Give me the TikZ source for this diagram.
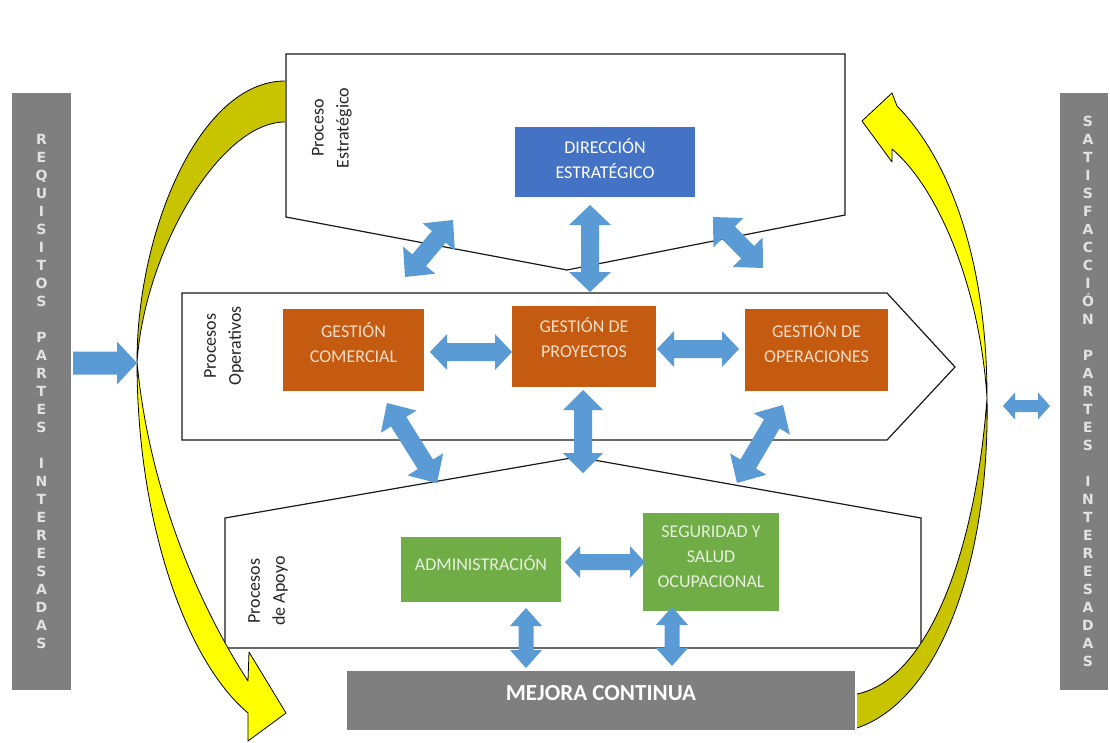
\documentclass[tikz,border=0pt]{standalone}
\usepackage{fontspec}
\setmainfont{Carlito}
\newfontfamily\barfont{DejaVu Sans}
\usetikzlibrary{calc}

\definecolor{barGray}{HTML}{7F7F7F}
\definecolor{barText}{HTML}{E2E2E2}
\definecolor{dirBlue}{HTML}{4472C4}
\definecolor{opOrange}{HTML}{C55A11}
\definecolor{opText}{HTML}{F8DEC6}
\definecolor{supGreen}{HTML}{70AD47}
\definecolor{supText}{HTML}{E6F1DC}
\definecolor{linkBlue}{HTML}{5B9BD5}
\definecolor{cycYellow}{HTML}{FFFF00}
\definecolor{cycOlive}{HTML}{C8C400}

% double-headed block arrow: from, to, shaft width, head width, head length
\newcommand{\dblarrow}[5]{%
  \fill[linkBlue] let \p1=(#1), \p2=(#2),
    \n1={atan2(\y2-\y1,\x2-\x1)}, \n2={veclen(\x2-\x1,\y2-\y1)} in
    [shift={(\p1)}, rotate=\n1]
    (0,0) -- (#5,#4/2) -- (#5,#3/2) -- (\n2-#5,#3/2) -- (\n2-#5,#4/2)
    -- (\n2,0) -- (\n2-#5,-#4/2) -- (\n2-#5,-#3/2) -- (#5,-#3/2)
    -- (#5,-#4/2) -- cycle;}
% single-headed block arrow: from, to, shaft width, head width, head length
\newcommand{\sglarrow}[5]{%
  \fill[linkBlue] let \p1=(#1), \p2=(#2),
    \n1={atan2(\y2-\y1,\x2-\x1)}, \n2={veclen(\x2-\x1,\y2-\y1)} in
    [shift={(\p1)}, rotate=\n1]
    (0,#3/2) -- (\n2-#5,#3/2) -- (\n2-#5,#4/2) -- (\n2,0)
    -- (\n2-#5,-#4/2) -- (\n2-#5,-#3/2) -- (0,-#3/2) -- cycle;}

\begin{document}
\begin{tikzpicture}[x=1pt,y=-1pt,
  every node/.style={inner sep=0pt, outer sep=0pt},
  region/.style={draw=black!90, line width=1.2pt, fill=white, line join=miter},
  sidebar/.style={rectangle, fill=barGray},
  bartext/.style={align=center, text=barText,
    font=\barfont\bfseries\fontsize{14}{18}\selectfont},
  procbox/.style={rectangle},
  boxtext/.style={align=center, font=\fontsize{18}{25}\selectfont},
  grouplabel/.style={align=center, rotate=90, text=black!85,
    font=\fontsize{18}{25}\selectfont},
  band/.style={draw=black, line width=0.8pt, line join=round}
]
\useasboundingbox (0,0) rectangle (1110,742);

% side bars
\node[sidebar, minimum width=59pt, minimum height=597pt] (lbar) at (41.5,391.5) {};
\node[bartext] (ltxt) at (lbar.center) {R\\E\\Q\\U\\I\\S\\I\\T\\O\\S\\~\\P\\A\\R\\T\\E\\S\\~\\I\\N\\T\\E\\R\\E\\S\\A\\D\\A\\S};
\node[sidebar, minimum width=48pt, minimum height=597pt] (rbar) at (1084,391.5) {};
\node[bartext] (rtxt) at ($(rbar.center)+(4,0)$) {S\\A\\T\\I\\S\\F\\A\\C\\C\\I\\Ó\\N\\~\\P\\A\\R\\T\\E\\S\\~\\I\\N\\T\\E\\R\\E\\S\\A\\D\\A\\S};

% process regions
\draw[region] (286,54) -- (845,54) -- (845,215) -- (567,270) -- (286,217) -- cycle;
\draw[region] (182,293) -- (887,293) -- (955,367) -- (887,440) -- (182,440) -- cycle;
\draw[region] (225,518) -- (577,457) -- (921,518) -- (921,648) -- (225,648) -- cycle;
\coordinate (apoyotop) at (577,457);

\node[grouplabel] (lblE) at (332,128) {Proceso\\Estratégico};
\node[grouplabel] (lblO) at (224,346) {Procesos\\Operativos};
\node[grouplabel] (lblA) at (268,591) {Procesos\\de Apoyo};

% process boxes
\node[procbox, fill=dirBlue, minimum width=180pt, minimum height=70pt] (dir) at (605,162) {};
\node[boxtext, text=white] at ($(dir.center)+(0,-3)$) {DIRECCIÓN\\ESTRATÉGICO};

\node[procbox, fill=opOrange, minimum width=141pt, minimum height=82pt] (com) at (353.5,350) {};
\node[boxtext, text=opText] at ($(com.center)+(0,-7)$) {GESTIÓN\\COMERCIAL};
\node[procbox, fill=opOrange, minimum width=144pt, minimum height=81pt] (proy) at (584,346.5) {};
\node[boxtext, text=opText] at ($(proy.center)+(0,-9)$) {GESTIÓN DE\\PROYECTOS};
\node[procbox, fill=opOrange, minimum width=143pt, minimum height=82pt] (ope) at (816.5,350) {};
\node[boxtext, text=opText] at ($(ope.center)+(0,-7)$) {GESTIÓN DE\\OPERACIONES};

\node[procbox, fill=supGreen, minimum width=160pt, minimum height=65pt] (adm) at (481,569.5) {};
\node[boxtext, text=supText] at ($(adm.center)+(0,-6)$) {ADMINISTRACIÓN};
\node[procbox, fill=supGreen, minimum width=136pt, minimum height=98pt] (seg) at (711,562) {};
\node[boxtext, text=supText] at ($(seg.center)+(0,-5)$) {SEGURIDAD Y\\SALUD\\OCUPACIONAL};

\node[procbox, fill=barGray, minimum width=508pt, minimum height=59pt] (mej) at (601,700.5) {};
\node[text=white, font=\bfseries\fontsize{23}{26}\selectfont] at ($(mej.center)+(0,-7)$) {MEJORA CONTINUA};

% cycle arrow on the left: back part (olive) then front part with head (yellow)
\fill[cycOlive] (285,81) .. controls (200,81) and (137,230) .. (137,362)
  .. controls (145,250) and (220,122) .. (285,122) -- cycle;
\draw[band] (285,81) .. controls (200,81) and (137,230) .. (137,362)
  .. controls (145,250) and (220,122) .. (285,122);
\filldraw[band, fill=cycYellow] (137,362) .. controls (137,520) and (185,660) .. (248,713)
  -- (248,741) -- (286,713) -- (249,652) -- (248,681)
  .. controls (205,615) and (150,500) .. (137,362) -- cycle;

% cycle arrow on the right: back part (olive) then front part with head (yellow)
\filldraw[band, fill=cycOlive] (857,694) .. controls (925,680) and (975,560) .. (987,398)
  .. controls (990,560) and (940,700) .. (857,728);
\filldraw[band, fill=cycYellow] (987,398) .. controls (987,260) and (950,160) .. (897,106)
  -- (892,93) -- (862,121) -- (892,162) -- (892,149)
  .. controls (940,190) and (980,290) .. (987,398) -- cycle;

% links between processes
\dblarrow{$(com.east)+(6,2)$}{$(proy.west)+(0,5.5)$}{18}{36}{17}
\dblarrow{$(proy.east)+(1,2.5)$}{$(ope.west)+(-6,-1)$}{18}{36}{17}
\dblarrow{$(adm.east)+(4,-7.5)$}{$(seg.west)+(2,0)$}{16}{32}{15}
\dblarrow{$(dir.south)+(-15,8)$}{$(proy.north)+(6,-14)$}{18}{42}{20}
\dblarrow{$(proy.south)+(-1,3)$}{$(apoyotop)+(6,16)$}{18}{40}{20}
\dblarrow{$(adm.south)+(45,6)$}{$(adm.south |- mej.north)+(45,-3)$}{15}{32}{18}
\dblarrow{$(seg.south)+(-39,-4)$}{$(seg.south |- mej.north)+(-39,-5)$}{15}{32}{18}
\dblarrow{$(com.north)+(51.5,-32)$}{$(dir.west)+(-62,58)$}{18}{42}{22}
\dblarrow{$(ope.north)+(-53.5,-41)$}{$(dir.east)+(18,55)$}{18}{42}{22}
\dblarrow{$(com.south)+(33.5,12)$}{$(adm.north)+(-44,-54)$}{18}{42}{22}
\dblarrow{$(ope.south)+(-33.5,14)$}{$(seg.north)+(26,-30)$}{18}{42}{22}
\dblarrow{$(rbar.west)+(-57,14.5)$}{$(rbar.west)+(-10,14.5)$}{12}{27}{12}
\sglarrow{$(lbar.east)+(2,-28.5)$}{$(lbar.east)+(66,-28.5)$}{23}{43}{20}
\end{tikzpicture}
\end{document}
